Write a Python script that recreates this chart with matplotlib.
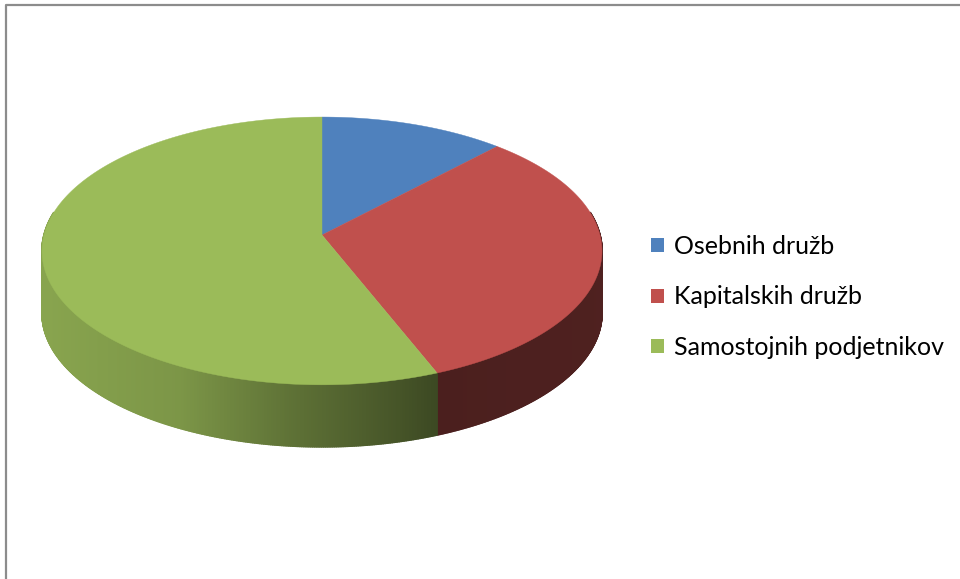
import numpy as np
import matplotlib.pyplot as plt
from matplotlib.collections import PolyCollection
from matplotlib.colors import to_rgb
from matplotlib.patches import Patch

labels = ['Osebnih družb', 'Kapitalskih družb', 'Samostojnih podjetnikov']
shares = [12, 32, 56]
colors = ['#4F81BD', '#C0504D', '#9BBB59']

# side wall gets darker towards the right
shade_x = [42, 180, 290, 400, 435, 602]
shade_f = [0.88, 0.80, 0.61, 0.45, 0.39, 0.41]

# pie geometry (pixel units), tilted disc with a little perspective
CX, CY = 322, 235
RX, RY = 278, 132
K = 0.119
DEPTH = 62


def rim(t):
    # t in degrees, clockwise from 12 o'clock
    t = np.radians(t)
    u = np.sin(t)
    v = -np.cos(t)
    w = 1 - K * v
    return CX + RX * u / w, CY + RY * v / w


fig = plt.figure(figsize=(9.6, 5.79), dpi=100)
ax = fig.add_axes([0, 0, 1, 1])
ax.set_xlim(0, 960)
ax.set_ylim(579, 0)
ax.axis('off')

bounds = np.concatenate([[0], np.cumsum(shares)]) / np.sum(shares) * 360

# side wall
quads, qcols = [], []
for i in range(len(shares)):
    a0 = max(bounds[i], 80)
    a1 = min(bounds[i + 1], 280)
    if a1 <= a0:
        continue
    ts = np.linspace(a0, a1, int((a1 - a0) * 3) + 2)
    xs, ys = rim(ts)
    base = np.array(to_rgb(colors[i]))
    for j in range(len(ts) - 1):
        quads.append([(xs[j], ys[j]), (xs[j + 1], ys[j + 1]),
                      (xs[j + 1], ys[j + 1] + DEPTH), (xs[j], ys[j] + DEPTH)])
        f = np.interp((xs[j] + xs[j + 1]) / 2, shade_x, shade_f)
        qcols.append(np.clip(base * f, 0, 1))
ax.add_collection(PolyCollection(quads, facecolors=qcols, edgecolors=qcols, linewidths=1.2))

# top face
for i in range(len(shares)):
    ts = np.linspace(bounds[i], bounds[i + 1], 400)
    xs, ys = rim(ts)
    poly = np.column_stack([np.r_[CX, xs], np.r_[CY, ys]])
    ax.fill(poly[:, 0], poly[:, 1], color=colors[i], lw=0.3, ec=colors[i], zorder=3)

# chart frame
ax.plot([6, 6, 960], [579, 5, 5], color='#8c8c8c', lw=1.6, solid_capstyle='butt')

handles = [Patch(facecolor=c, edgecolor='none') for c in colors]
ax.legend(handles, labels, loc='upper left', bbox_to_anchor=(651, 235),
          bbox_transform=ax.transData, borderpad=0, borderaxespad=0,
          frameon=False, prop={'family': 'Lato', 'size': 18},
          handlelength=0.5, handleheight=0.5, handletextpad=0.4,
          labelspacing=1.1)

fig.savefig('out.png', dpi=100)
